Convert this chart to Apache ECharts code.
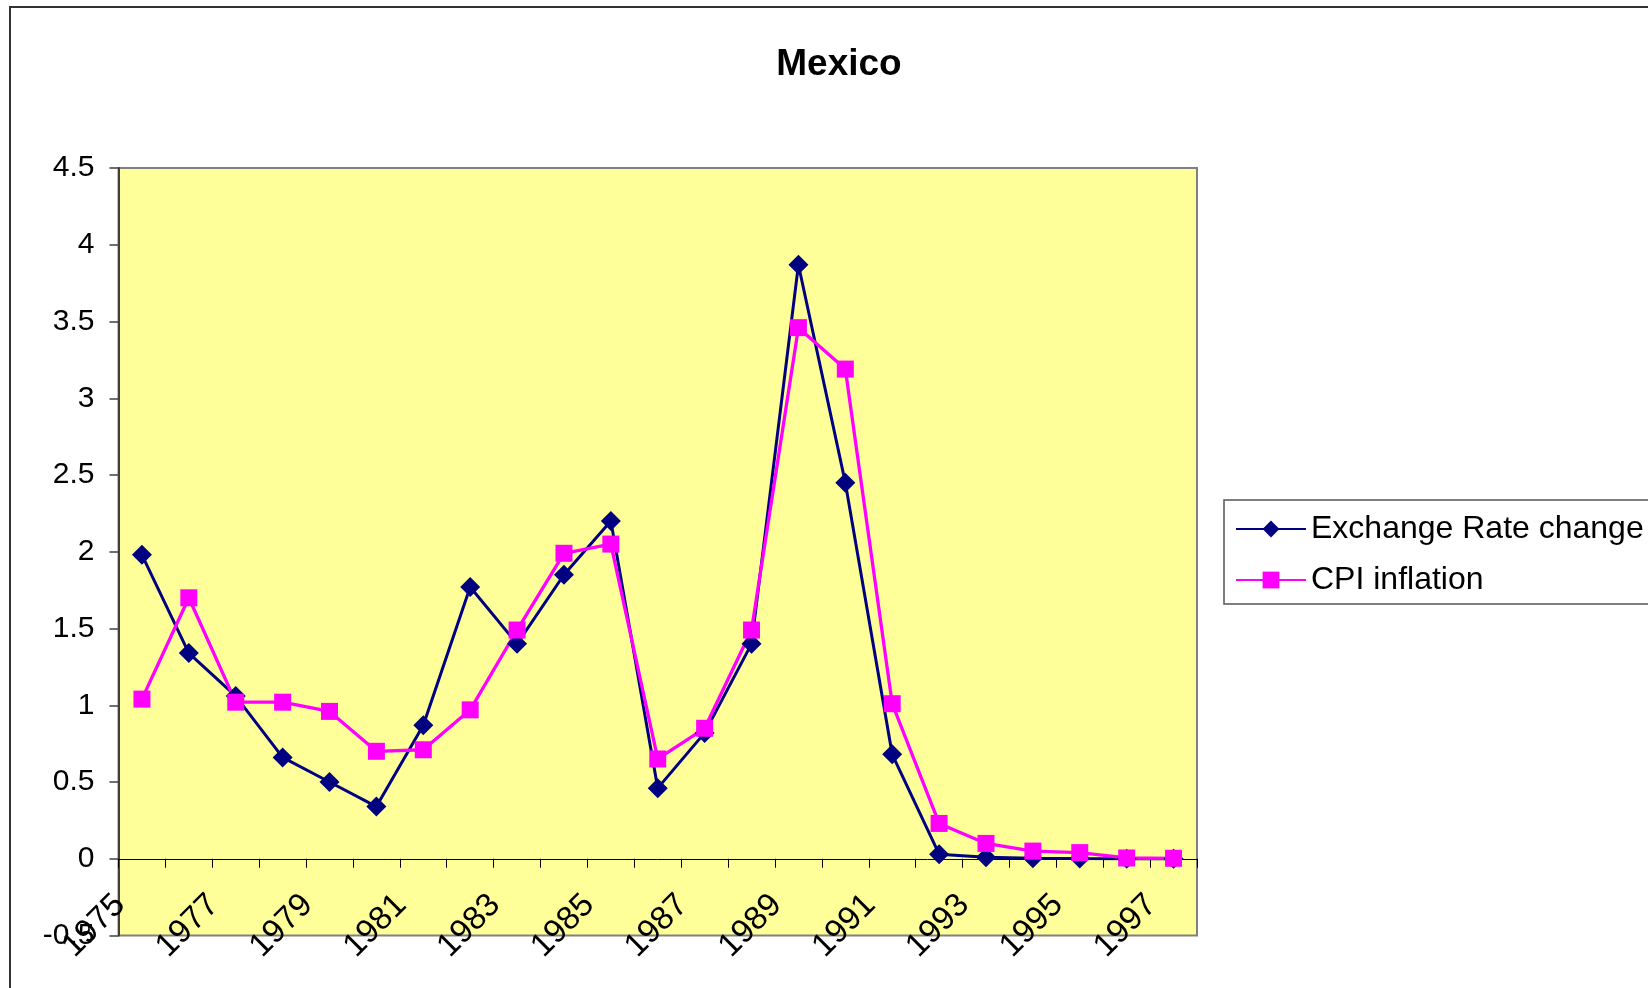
<!DOCTYPE html>
<html>
<head>
<meta charset="utf-8">
<script src="https://cdn.jsdelivr.net/npm/echarts@6/dist/echarts.min.js"></script>
<style>
  html, body { margin: 0; padding: 0; background: #ffffff; }
  #chart { width: 1648px; height: 988px; }
</style>
</head>
<body>
<div id="chart"></div>
<script>
// Annual series, 1975-1997
const years = ['1975','1976','1977','1978','1979','1980','1981','1982','1983','1984','1985','1986',
               '1987','1988','1989','1990','1991','1992','1993','1994','1995','1996','1997'];
const exchangeRateChange = [1.98, 1.34, 1.06, 0.66, 0.50, 0.34, 0.87, 1.77, 1.40, 1.85, 2.20, 0.46,
                            0.82, 1.40, 3.87, 2.45, 0.68, 0.03, 0.01, 0.003, 0.001, 0.0, 0.0];
const cpiInflation = [1.04, 1.70, 1.02, 1.02, 0.96, 0.70, 0.71, 0.97, 1.49, 1.99, 2.05, 0.65,
                      0.85, 1.49, 3.46, 3.19, 1.01, 0.23, 0.10, 0.05, 0.04, 0.005, 0.003];
const seriesNames = ['Exchange Rate change', 'CPI inflation'];
const yMin = -0.5, yMax = 4.5, yStep = 0.5;

const FONT = '"Liberation Sans", Arial, Helvetica, sans-serif';

const chart = echarts.init(document.getElementById('chart'), null, { renderer: 'canvas' });

chart.setOption({
  animation: false,
  backgroundColor: '#ffffff',
  title: {
    text: 'Mexico',
    left: 839,
    top: 46,
    textAlign: 'center',
    padding: 0,
    textStyle: { fontFamily: FONT, fontSize: 37, fontWeight: 'bold', color: '#000000' }
  },
  graphic: [
    { // outer chart frame
      type: 'rect', z: 0, silent: true,
      shape: { x: 10, y: 7, width: 1700, height: 1000 },
      style: { fill: 'none', stroke: '#333333', lineWidth: 2 }
    },
    { // legend frame
      type: 'rect', z: 1, silent: true,
      shape: { x: 1224, y: 500, width: 600, height: 104 },
      style: { fill: '#ffffff', stroke: '#555555', lineWidth: 1.5 }
    }
  ],
  legend: {
    orient: 'vertical',
    left: 1235,
    top: 513,
    padding: 0,
    itemGap: 19,
    itemWidth: 70,
    itemHeight: 21,
    data: seriesNames,
    textStyle: { fontFamily: FONT, fontSize: 32, color: '#000000' }
  },
  grid: {
    left: 118.5,
    right: 451,
    top: 168,
    bottom: 52.5,
    outerBoundsMode: 'none',
    containLabel: false,
    show: true,
    backgroundColor: '#FFFF99',
    borderColor: '#808080',
    borderWidth: 2
  },
  xAxis: {
    type: 'category',
    data: years,
    boundaryGap: true,
    axisLine: { onZero: true, lineStyle: { color: '#000000', width: 1 } },
    axisTick: { show: true, interval: 0, length: 9, lineStyle: { color: '#000000', width: 1 } },
    axisLabel: {
      interval: 1,
      rotate: 45,
      // labels sit just under the zero line, which is 76.7px above the plot's bottom edge
      margin: -57.5,
      padding: [0, 31, 0, 0],
      fontFamily: FONT,
      fontSize: 33,
      color: '#000000'
    },
    splitLine: { show: false }
  },
  yAxis: {
    type: 'value',
    min: yMin,
    max: yMax,
    interval: yStep,
    axisLine: { show: true, lineStyle: { color: '#404040', width: 2 } },
    axisTick: { show: true, length: 9, lineStyle: { color: '#404040', width: 1.5 } },
    axisLabel: { margin: 24, fontFamily: FONT, fontSize: 30, color: '#000000' },
    splitLine: { show: false }
  },
  series: [
    {
      name: seriesNames[0],
      type: 'line',
      data: exchangeRateChange,
      symbol: 'diamond',
      symbolSize: 20,
      color: '#000080',
      itemStyle: { color: '#000080' },
      lineStyle: { color: '#000080', width: 3 }
    },
    {
      name: seriesNames[1],
      type: 'line',
      data: cpiInflation,
      symbol: 'rect',
      symbolSize: 17,
      color: '#FF00FF',
      itemStyle: { color: '#FF00FF' },
      lineStyle: { color: '#FF00FF', width: 3.3 }
    }
  ]
});
</script>
</body>
</html>
